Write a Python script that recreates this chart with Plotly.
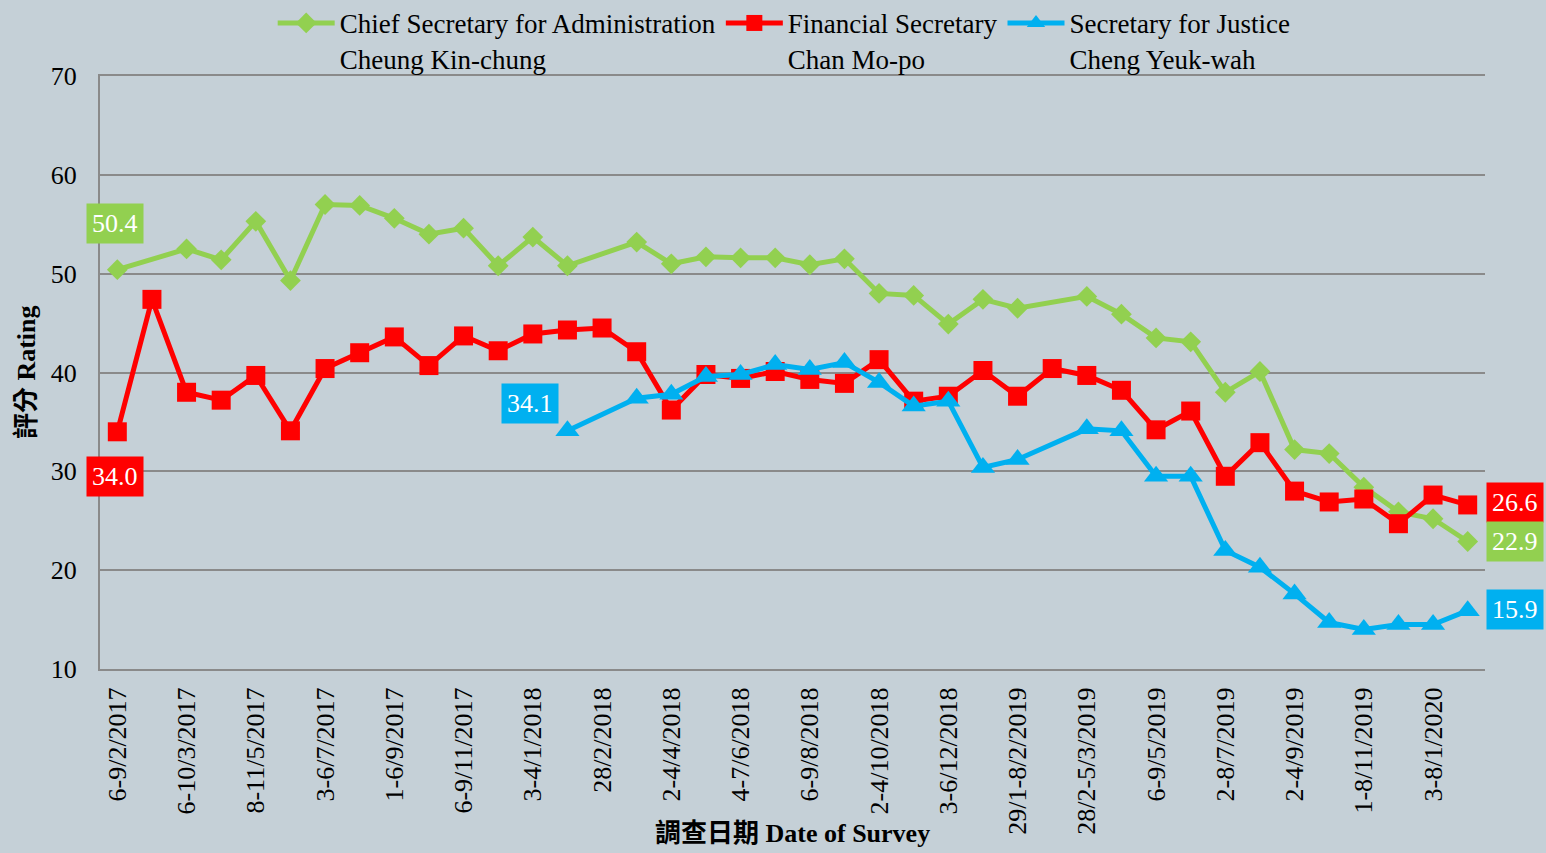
import plotly.graph_objects as go

# ---- data ----
tick_labels = ["6-9/2/2017", "6-10/3/2017", "8-11/5/2017", "3-6/7/2017", "1-6/9/2017",
               "6-9/11/2017", "3-4/1/2018", "28/2/2018", "2-4/4/2018", "4-7/6/2018",
               "6-9/8/2018", "2-4/10/2018", "3-6/12/2018", "29/1-8/2/2019", "28/2-5/3/2019",
               "6-9/5/2019", "2-8/7/2019", "2-4/9/2019", "1-8/11/2019", "3-8/1/2020"]

cs_values = [50.4, None, 52.5, 51.4, 55.3, 49.3, 57.0, 56.9, 55.6, 54.0,
             54.6, 50.8, 53.7, 50.8, None, 53.2, 51.0, 51.7, 51.6, 51.6,
             50.9, 51.5, 48.0, 47.8, 44.9, 47.4, 46.5, None, 47.7, 45.9,
             43.5, 43.1, 38.0, 40.1, 32.2, 31.8, 28.4, 25.9, 25.2, 22.9]

fs_values = [34.0, 47.4, 38.0, 37.2, 39.7, 34.1, 40.4, 42.0, 43.6, 40.7,
             43.7, 42.2, 43.9, 44.3, 44.5, 42.1, 36.2, 39.8, 39.4, 40.1,
             39.3, 38.9, 41.3, 37.1, 37.6, 40.2, 37.6, 40.4, 39.7, 38.2,
             34.2, 36.1, 29.5, 32.9, 28.0, 26.9, 27.2, 24.7, 27.6, 26.6]

sj_values = [None, None, None, None, None, None, None, None, None, None,
             None, None, None, 34.1, None, 37.4, 37.8, 39.6, 39.8, 40.8,
             40.3, 41.0, 39.0, 36.6, 37.1, 30.4, 31.2, None, 34.3, 34.1,
             29.5, 29.5, 22.0, 20.3, 17.6, 14.7, 14.0, 14.5, 14.5, 15.9]

series_names = ["Chief Secretary for Administration<br>Cheung Kin-chung",
                "Financial Secretary<br>Chan Mo-po",
                "Secretary for Justice<br>Cheng Yeuk-wah"]

# ---- styles ----
GREEN = "#92D050"
RED = "#FF0000"
BLUE = "#00B0F0"
BG = "#C5D0D7"
GRID = "#8A8A8A"
FONT = "Liberation Serif, Times New Roman, Noto Sans CJK TC, serif"

n = len(fs_values)
x_idx = list(range(n))
tick_pos = list(range(0, n, 2))

fig = go.Figure()
fig.add_trace(go.Scatter(x=x_idx, y=cs_values, name=series_names[0], mode="lines+markers",
                         connectgaps=True, line=dict(color=GREEN, width=5),
                         marker=dict(symbol="diamond", size=16, color=GREEN)))
fig.add_trace(go.Scatter(x=x_idx, y=fs_values, name=series_names[1], mode="lines+markers",
                         connectgaps=True, line=dict(color=RED, width=5),
                         marker=dict(symbol="square", size=19, color=RED)))
fig.add_trace(go.Scatter(x=x_idx, y=sj_values, name=series_names[2], mode="lines+markers",
                         connectgaps=True, line=dict(color=BLUE, width=5),
                         marker=dict(symbol="triangle-up", size=21, color=BLUE)))

def first_idx(vals):
    return next(i for i, v in enumerate(vals) if v is not None)

annotations = []
def label(idx, vals, color, xshift, yshift):
    annotations.append(dict(x=idx, y=vals[idx], xref="x", yref="y", text=f"{vals[idx]:.1f}",
                            showarrow=False, xshift=xshift, yshift=yshift, bgcolor=color,
                            borderpad=5, font=dict(family=FONT, size=26, color="white")))

label(first_idx(cs_values), cs_values, GREEN, -2, 46)
label(first_idx(fs_values), fs_values, RED, -2, -45)
label(first_idx(sj_values), sj_values, BLUE, -37, 27)
label(n - 1, fs_values, RED, 47, 2)
label(n - 1, cs_values, GREEN, 47, 0)
label(n - 1, sj_values, BLUE, 47, 1)

annotations.append(dict(x=-0.053, y=0.5, xref="paper", yref="paper", text="<b>評分 Rating</b>",
                        textangle=-90, showarrow=False, xanchor="center", yanchor="middle",
                        font=dict(family=FONT, size=26, color="black")))
annotations.append(dict(x=0.5, y=-0.306, xref="paper", yref="paper", text="<b>調查日期 Date of Survey</b>",
                        showarrow=False, xanchor="center", yanchor="bottom",
                        font=dict(family=FONT, size=26, color="black")))

fig.update_layout(
    width=1546, height=853,
    paper_bgcolor=BG, plot_bgcolor=BG,
    margin=dict(l=100, r=61, t=76, b=184, autoexpand=False),
    font=dict(family=FONT, size=26, color="black"),
    showlegend=True,
    legend=dict(orientation="h", x=0.494, xanchor="center", y=1.13, yanchor="top",
                bgcolor="rgba(0,0,0,0)", font=dict(family=FONT, size=27, color="black"),
                valign="top", itemwidth=57),
    annotations=annotations,
)
fig.update_xaxes(range=[-0.5, n - 0.5], tickmode="array", tickvals=tick_pos, ticktext=tick_labels,
                 tickangle=-90, showgrid=False, zeroline=False,
                 showline=True, mirror=True, linecolor=GRID, linewidth=2,
                 tickfont=dict(family=FONT, size=26, color="black"), ticklabelstandoff=6)
fig.update_yaxes(range=[10, 70], dtick=10, showgrid=True, gridcolor=GRID, gridwidth=2,
                 zeroline=False, showline=True, linecolor=GRID, linewidth=2,
                 tickfont=dict(family=FONT, size=26, color="black"), ticklabelstandoff=16)

fig.write_html("out.html", config={"displayModeBar": False},
               post_script="document.body.style.margin='0';document.body.style.overflow='hidden';")
